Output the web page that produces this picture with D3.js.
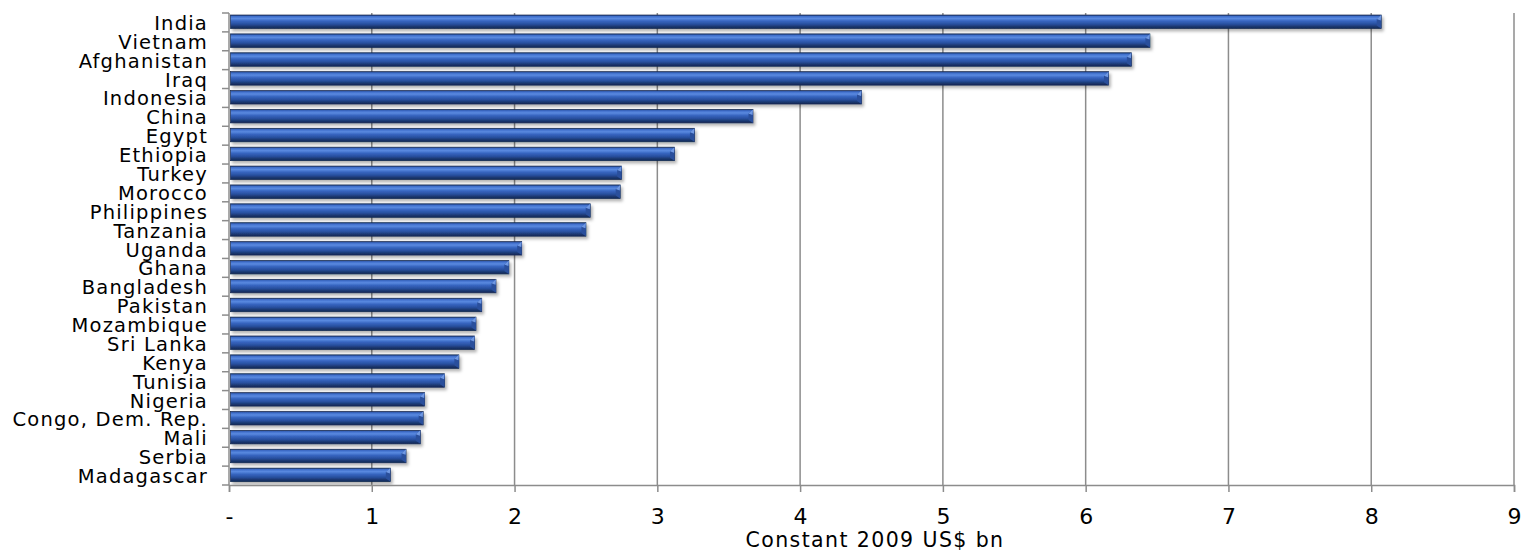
<!DOCTYPE html>
<html>
<head>
<meta charset="utf-8">
<script src="https://cdn.jsdelivr.net/npm/d3@7"></script>
<style>
  body { margin: 0; background: #fff; }
  text { font-family: "DejaVu Sans", Verdana, sans-serif; fill: #000; }
</style>
</head>
<body>
<div id="aid-chart"></div>
<script>
const countries = ['India', 'Vietnam', 'Afghanistan', 'Iraq', 'Indonesia', 'China', 'Egypt',
  'Ethiopia', 'Turkey', 'Morocco', 'Philippines', 'Tanzania', 'Uganda', 'Ghana', 'Bangladesh',
  'Pakistan', 'Mozambique', 'Sri Lanka', 'Kenya', 'Tunisia', 'Nigeria', 'Congo, Dem. Rep.',
  'Mali', 'Serbia', 'Madagascar'];
const aidValues = [8.07, 6.45, 6.32, 6.16, 4.43, 3.67, 3.26, 3.12, 2.75, 2.74, 2.53, 2.50,
  2.05, 1.96, 1.87, 1.77, 1.73, 1.72, 1.61, 1.51, 1.37, 1.36, 1.34, 1.24, 1.13];
const xTicks = [0, 1, 2, 3, 4, 5, 6, 7, 8, 9];
const xTickLabels = ['-', '1', '2', '3', '4', '5', '6', '7', '8', '9'];
const xTitle = 'Constant 2009 US$ bn';

const cfg = {
  width: 1526,
  height: 557,
  margin: { top: 13, right: 12, bottom: 72, left: 229 },
  gridColor: '#8c8c8c',
};

const svg = d3.select('#aid-chart')
  .append('svg')
  .attr('width', cfg.width)
  .attr('height', cfg.height);

/* ---------------- DEFS ---------------- */
const defs = svg.append('defs');
const grad = defs.append('linearGradient')
  .attr('id', 'barGrad')
  .attr('x1', 0).attr('y1', 0).attr('x2', 0).attr('y2', 1);
[
  [0, '#1f3d7c'], [0.1, '#3e6dca'], [0.26, '#5a8ae0'], [0.45, '#3765c0'],
  [0.68, '#284f9e'], [0.86, '#1b376e'], [1, '#13285a'],
].forEach(([o, c]) => grad.append('stop').attr('offset', o).attr('stop-color', c));

const shadow = defs.append('filter')
  .attr('id', 'barShadow')
  .attr('x', '-5%').attr('y', '-40%').attr('width', '110%').attr('height', '200%');
shadow.append('feDropShadow')
  .attr('dx', 2).attr('dy', 2.5).attr('stdDeviation', 1.5)
  .attr('flood-color', '#000').attr('flood-opacity', 0.3);

/* ---------------- SCALES ---------------- */
const x = d3.scaleLinear()
  .domain([0, 9])
  .range([cfg.margin.left, cfg.width - cfg.margin.right]);

const y = d3.scaleBand()
  .domain(countries)
  .range([cfg.margin.top, cfg.height - cfg.margin.bottom])
  .paddingInner(0)
  .paddingOuter(0);

const plotBottom = cfg.height - cfg.margin.bottom;

/* ---------------- GRID ---------------- */
svg.append('g')
  .selectAll('line')
  .data(xTicks.slice(1))
  .join('line')
  .attr('x1', (d) => x(d)).attr('x2', (d) => x(d))
  .attr('y1', cfg.margin.top).attr('y2', plotBottom)
  .attr('stroke', cfg.gridColor)
  .attr('stroke-width', 1.5);

/* ---------------- BARS ---------------- */
const barH = 13.5;
const barOff = 2;
const bars = svg.append('g');
const data = countries.map((c, i) => ({ name: c, value: aidValues[i] }));

bars.selectAll('rect.bar')
  .data(data)
  .join('rect')
  .attr('class', 'bar')
  .attr('x', x(0) + 1.5)
  .attr('y', (d) => y(d.name) + barOff)
  .attr('width', (d) => x(d.value) - x(0) - 1.5)
  .attr('height', barH)
  .attr('fill', 'url(#barGrad)')
  .attr('stroke', '#14294f')
  .attr('stroke-width', 0.7)
  .attr('filter', 'url(#barShadow)');

// bevelled right end
bars.selectAll('path.bevel')
  .data(data)
  .join('path')
  .attr('class', 'bevel')
  .attr('d', (d) => {
    const x1 = x(d.value);
    const y0 = y(d.name) + barOff;
    return `M${x1 - 4.5},${y0 + 4} L${x1},${y0} L${x1},${y0 + barH} L${x1 - 4.5},${y0 + barH - 3} Z`;
  })
  .attr('fill', '#2a4f9c');
bars.selectAll('path.bevelHi')
  .data(data)
  .join('path')
  .attr('class', 'bevelHi')
  .attr('d', (d) => {
    const x1 = x(d.value);
    const y0 = y(d.name) + barOff;
    return `M${x1 - 4.5},${y0 + 4} L${x1},${y0} L${x1 - 0.5},${y0 + 5.5} Z`;
  })
  .attr('fill', '#7099e4');

/* ---------------- AXES ---------------- */
const xAxis = d3.axisBottom(x)
  .tickValues(xTicks)
  .tickSize(7)
  .tickFormat((d, i) => xTickLabels[i]);

const gx = svg.append('g')
  .attr('transform', `translate(0,${plotBottom})`)
  .call(xAxis);
gx.select('.domain').attr('stroke', cfg.gridColor).attr('stroke-width', 1.5);
gx.selectAll('.tick line').attr('stroke', cfg.gridColor).attr('stroke-width', 1.5);
gx.selectAll('.tick text')
  .attr('y', 23)
  .attr('dy', '0.72em')
  .style('font-size', '22px')
  .style('font-family', '"DejaVu Sans", Verdana, sans-serif')
  .attr('fill', '#000');

// y axis: line plus ticks at band boundaries
const gy = svg.append('g');
gy.append('line')
  .attr('x1', x(0)).attr('x2', x(0))
  .attr('y1', cfg.margin.top).attr('y2', plotBottom)
  .attr('stroke', cfg.gridColor).attr('stroke-width', 1.5);
const bounds = countries.map((c) => y(c)).concat([plotBottom]);
gy.selectAll('line.ytick')
  .data(bounds)
  .join('line')
  .attr('class', 'ytick')
  .attr('x1', x(0) - 7).attr('x2', x(0))
  .attr('y1', (d) => d).attr('y2', (d) => d)
  .attr('stroke', cfg.gridColor).attr('stroke-width', 1.5);

gy.selectAll('text.cat')
  .data(countries)
  .join('text')
  .attr('class', 'cat')
  .attr('x', x(0) - 21)
  .attr('y', (d) => y(d) + y.bandwidth() / 2 + 7.5)
  .attr('text-anchor', 'end')
  .style('font-size', '19.5px')
  .style('letter-spacing', '1.2px')
  .text((d) => d);

/* ---------------- TITLE ---------------- */
svg.append('text')
  .attr('x', 875)
  .attr('y', 547)
  .attr('text-anchor', 'middle')
  .style('font-size', '20.5px')
  .style('letter-spacing', '1.4px')
  .text(xTitle);
</script>
</body>
</html>
